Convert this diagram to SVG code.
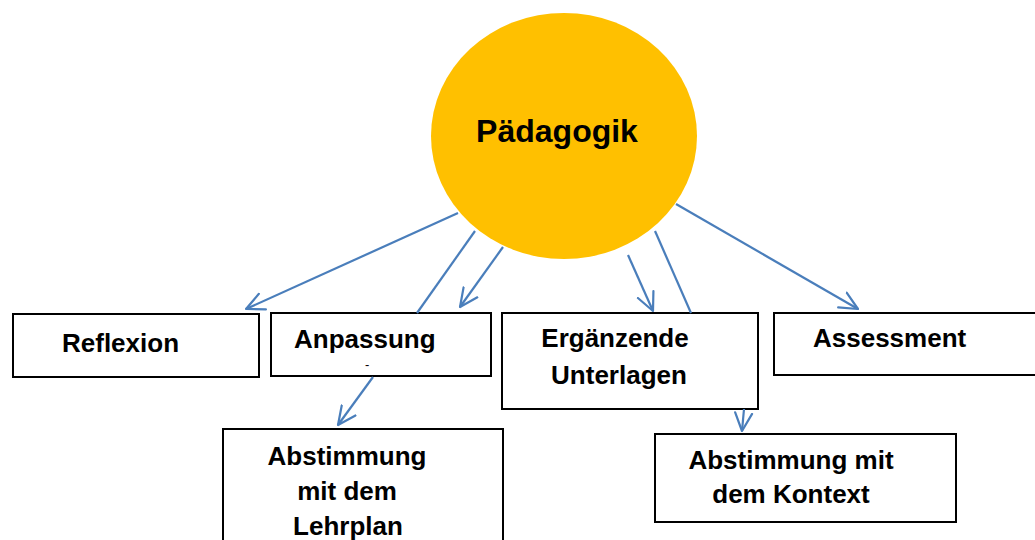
<svg xmlns="http://www.w3.org/2000/svg" width="1035" height="540" viewBox="0 0 1035 540">
<defs>
<style>
.box{fill:#fff;stroke:#000;stroke-width:2}
.t{font-family:"Liberation Sans",Arial,sans-serif;font-weight:bold;font-size:26px;fill:#000}
.c{fill:none;stroke:#4A7EBB;stroke-width:2.2}
.a{marker-end:url(#ah)}
</style>
<marker id="ah" viewBox="0 0 20 20" refX="19" refY="10" markerWidth="20" markerHeight="20" markerUnits="userSpaceOnUse" orient="auto">
<path d="M1,1.5 L19,10 L1,18.5" fill="none" stroke="#4A7EBB" stroke-width="2.2" stroke-linecap="round" stroke-linejoin="round"/>
</marker>
</defs>
<rect width="1035" height="540" fill="#fff"/>
<g id="paedagogik">
<ellipse cx="564" cy="136" rx="133" ry="123" fill="#FFC000"/>
<text class="t" x="557" y="142" text-anchor="middle" style="font-size:32px">Pädagogik</text>
</g>
<g id="reflexion">
<rect class="box" x="13" y="314" width="246" height="63"/>
<text class="t" x="62" y="352">Reflexion</text>
</g>
<g id="anpassung">
<rect class="box" x="271" y="313" width="220" height="63"/>
<text class="t" x="294" y="348">Anpassung</text>
<text x="365" y="369" style="font-family:'Liberation Sans',Arial,sans-serif;font-size:13px">-</text>
</g>
<g id="ergaenzende">
<rect class="box" x="502" y="313" width="256" height="96"/>
<text class="t" x="615" y="347" text-anchor="middle">Ergänzende</text>
<text class="t" x="619" y="384" text-anchor="middle">Unterlagen</text>
</g>
<g id="assessment">
<rect class="box" x="774" y="313" width="270" height="62"/>
<text class="t" x="813" y="347">Assessment</text>
</g>
<g id="lehrplan">
<rect class="box" x="223" y="429" width="280" height="130"/>
<text class="t" x="347" y="465" text-anchor="middle">Abstimmung</text>
<text class="t" x="347" y="500" text-anchor="middle">mit dem</text>
<text class="t" x="348" y="535" text-anchor="middle">Lehrplan</text>
</g>
<g id="kontext">
<rect class="box" x="655" y="434" width="301" height="88"/>
<text class="t" x="791" y="469" text-anchor="middle">Abstimmung mit</text>
<text class="t" x="791" y="503" text-anchor="middle">dem Kontext</text>
</g>
<g id="connectors">
<line class="c a" x1="458" y1="213" x2="246" y2="309"/>
<line class="c" x1="475" y1="231" x2="417" y2="313"/>
<line class="c a" x1="503" y1="247" x2="460" y2="307"/>
<line class="c a" x1="373" y1="377" x2="338" y2="425"/>
<line class="c a" x1="628" y1="255" x2="653" y2="311"/>
<line class="c" x1="655" y1="231" x2="691" y2="313"/>
<line class="c a" x1="676" y1="204" x2="858" y2="309"/>
<line class="c a" x1="744" y1="409" x2="742" y2="431"/>
</g>
</svg>
